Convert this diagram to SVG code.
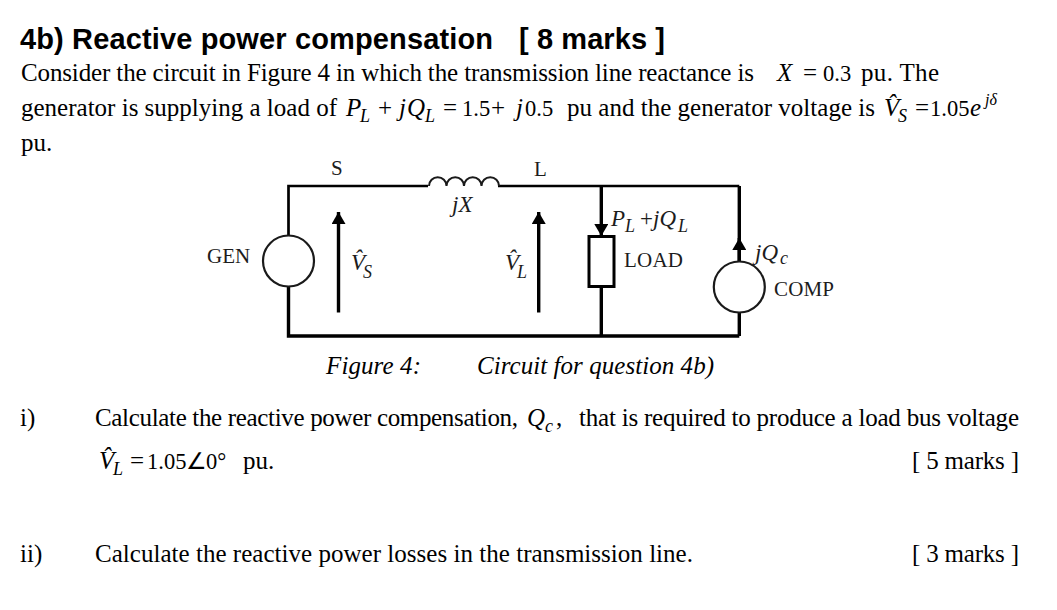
<svg xmlns="http://www.w3.org/2000/svg" width="1057" height="610" viewBox="0 0 1057 610">
<style>
text{font-family:"Liberation Serif","Times New Roman",serif;fill:#000;font-size:25px;white-space:pre}
.h{font-family:"Liberation Sans",Arial,sans-serif;font-weight:700;font-size:29px}
.i{font-style:italic}
.s{font-size:18px}
.u{font-size:16px}
.n{font-size:22.500px}
.c{font-size:21px;fill:#1c1c1c}
.ci{font-size:23px;font-style:italic;fill:#1c1c1c}
.cs{font-size:18px;font-style:italic;fill:#1c1c1c}
.w{fill:none;stroke:#000;stroke-width:3.4}
.t{fill:none;stroke:#000;stroke-width:2.7}
.a{fill:none;stroke:#000;stroke-width:3.4;marker-end:url(#ah)}
</style>
<defs><marker id="ah" markerUnits="userSpaceOnUse" markerWidth="14" markerHeight="14" refX="12" refY="7" orient="auto"><path d="M0 0L12 7L0 14Z" fill="#000"/></marker></defs>
<rect width="1057" height="610" fill="#fff"/>
<g id="question-text">
<text class="h" x="20" y="49" textLength="473">4b) Reactive power compensation</text>
<text class="h" x="519" y="49" textLength="146">[ 8 marks ]</text>
<text x="21" y="80.500" textLength="733">Consider the circuit in Figure 4 in which the transmission line reactance is</text>
<text class="i" x="777" y="80.500">X</text><text x="803" y="80.500">=</text><text class="n" x="823" y="80.500">0.3</text>
<text x="861" y="80.500" textLength="78">pu. The</text>
<text x="21" y="116" textLength="316">generator is supplying a load of</text>
<text class="i" x="346" y="116">P</text><text class="i s" x="360" y="122">L</text>
<text x="378" y="116">+</text><text class="i" x="399" y="116">j</text><text class="i" x="407" y="116">Q</text><text class="i s" x="425" y="122">L</text>
<text x="443" y="116">=</text><text class="n" x="462" y="116">1.5</text><text x="491" y="116">+</text><text class="i" x="516" y="116">j</text><text class="n" x="525" y="116">0.5</text>
<text x="567" y="116" textLength="308">pu and the generator voltage is</text>
<text class="i" x="884" y="116">V̂</text><text class="i s" x="898" y="122">S</text>
<text x="915" y="116">=</text><text class="n" x="930" y="116">1.05</text><text class="i" x="970" y="116">e</text><text class="i u" x="985" y="105">jδ</text>
<text x="21" y="150.500">pu.</text>
<text x="20" y="426">i)</text>
<text x="95" y="426" textLength="423">Calculate the reactive power compensation,</text>
<text class="i" x="527" y="426">Q</text><text class="i s" x="545" y="432">c</text><text x="556" y="426">,</text>
<text x="579" y="426" textLength="440">that is required to produce a load bus voltage</text>
<text class="i" x="99" y="469">V̂</text><text class="i s" x="113" y="475">L</text>
<text x="130" y="469">=</text><text class="n" x="147" y="469">1.05</text><text class="n" x="186" y="469">∠</text><text class="n" x="206" y="469">0°</text>
<text x="243" y="469">pu.</text>
<text x="912" y="469" textLength="107">[ 5 marks ]</text>
<text x="20" y="562">ii)</text>
<text x="95" y="562" textLength="598">Calculate the reactive power losses in the transmission line.</text>
<text x="912" y="562" textLength="107">[ 3 marks ]</text>
<text class="i" x="326" y="374" textLength="95">Figure 4:</text>
<text class="i" x="477" y="374" textLength="237">Circuit for question 4b)</text>
</g>
<g id="connectors">
<path class="t" d="M288.500 236V186H428M498 186H739.300"/>
<path class="w" d="M739.300 186V262M739.300 312V336M288.500 286V336H739.300"/>
<path class="w" d="M601.300 287V336"/>
<path class="a" d="M338.500 312.500V212"/>
<path class="a" d="M538.700 312.500V212"/>
<path class="a" d="M601.300 186V236"/>
<path class="a" d="M739.300 262V238"/>
</g>
<g id="gen"><circle cx="288.500" cy="261" r="25.500" fill="#fff" stroke="#1a1a1a" stroke-width="2.200"/><text class="c" x="207" y="263">GEN</text></g>
<g id="inductor"><path d="M429 186a8.700 8.700 0 0 1 17.500 0a8.700 8.700 0 0 1 17.500 0a8.700 8.700 0 0 1 17.500 0a8.700 8.700 0 0 1 17.500 0" fill="none" stroke="#1a1a1a" stroke-width="2"/><text class="ci" x="452" y="212">jX</text></g>
<g id="node-s"><text class="c" x="331" y="175">S</text></g>
<g id="node-l"><text class="c" x="534" y="176">L</text></g>
<g id="vs"><text class="ci" x="351" y="270">V̂</text><text class="cs" x="363" y="278">S</text></g>
<g id="vl"><text class="ci" x="505" y="270">V̂</text><text class="cs" x="517" y="278">L</text></g>
<g id="load"><rect x="589" y="236.500" width="25" height="50" fill="#fff" stroke="#000" stroke-width="3"/><text class="c" x="624" y="267" textLength="59">LOAD</text><text class="ci" x="611" y="226">P</text><text class="cs" x="625" y="232">L</text><text class="ci" style="font-style:normal" x="640" y="226">+</text><text class="ci" x="653" y="226">jQ</text><text class="cs" x="678" y="232">L</text></g>
<g id="comp"><circle cx="739.300" cy="287" r="25.500" fill="#fff" stroke="#1a1a1a" stroke-width="2.200"/><text class="ci" x="755" y="260">jQ</text><text class="cs" x="780" y="264">c</text><text class="c" x="774" y="296" textLength="60">COMP</text></g>
</svg>
